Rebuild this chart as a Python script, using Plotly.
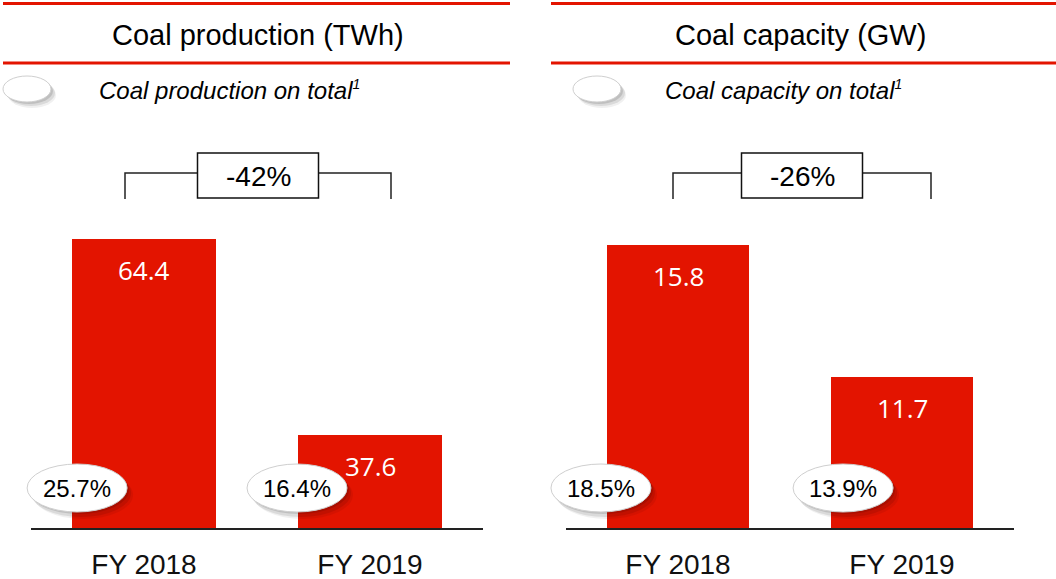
import plotly.graph_objects as go

# ---------------- data ----------------
categories = ["FY 2018", "FY 2019"]
production_twh = [64.4, 37.6]
capacity_gw = [15.8, 11.7]
production_share_pct = [25.7, 16.4]
capacity_share_pct = [18.5, 13.9]
production_change_pct = -42
capacity_change_pct = -26
panel_titles = ["Coal production (TWh)", "Coal capacity (GW)"]
legend_labels = ["Coal production on total", "Coal capacity on total"]

# ---------------- style ----------------
W, H = 1056, 579
RED = "#E31400"
FONT = "Liberation Sans, Arial, sans-serif"


def px(x):
    return x / W


def py(y):
    return 1 - y / H


fig = go.Figure()

panels = [
    dict(vals=production_twh, share=production_share_pct, change=production_change_pct,
         title=panel_titles[0], legend=legend_labels[0],
         xdom=(31, 483), yrange=(24.82, 76.63),
         line_x=(3, 510), title_x=258, leg_ell_x=27, leg_txt_x=97,
         br=(125, 391), ell_off=[-0.296, -0.323]),
    dict(vals=capacity_gw, share=capacity_share_pct, change=capacity_change_pct,
         title=panel_titles[1], legend=legend_labels[1],
         xdom=(566, 1014), yrange=(7.0, 18.75),
         line_x=(551, 1056), title_x=800, leg_ell_x=597, leg_txt_x=663,
         br=(673, 931), ell_off=[-0.344, -0.263]),
]

shapes = []
annotations = []
YDOM = (py(528.3), py(150))
XRANGE = (-0.5, 1.5)

for k, p in enumerate(panels):
    xa = "x" if k == 0 else "x2"
    ya = "y" if k == 0 else "y2"
    fig.add_trace(go.Bar(
        x=list(range(len(categories))), y=p["vals"], xaxis=xa, yaxis=ya,
        width=0.633, marker=dict(color=RED, line=dict(width=0)),
        hoverinfo="skip", showlegend=False,
    ))
    axis_kw = dict(
        domain=[px(p["xdom"][0]), px(p["xdom"][1])], range=list(XRANGE),
        tickmode="array", tickvals=list(range(len(categories))), ticktext=categories,
        tickfont=dict(family=FONT, size=28, color="#111"),
        showline=True, linecolor="#222", linewidth=2, showgrid=False, zeroline=False,
        ticks="", ticklabelstandoff=10, fixedrange=True,
    )
    yaxis_kw = dict(domain=list(YDOM), range=list(p["yrange"]), visible=False,
                    showgrid=False, zeroline=False, fixedrange=True)
    if k == 0:
        fig.update_layout(xaxis=axis_kw, yaxis=yaxis_kw)
    else:
        axis_kw["anchor"] = "y2"
        yaxis_kw["anchor"] = "x2"
        fig.update_layout(xaxis2=axis_kw, yaxis2=yaxis_kw)

    # x data -> paper fraction (so that ellipses are not clipped by the subplot)
    d0, d1 = p["xdom"]

    def x_to_paper(xv, d0=d0, d1=d1):
        return px(d0 + (xv - XRANGE[0]) / (XRANGE[1] - XRANGE[0]) * (d1 - d0))

    # red header lines
    for yy in (3.5, 63):
        shapes.append(dict(type="line", xref="paper", yref="paper",
                           x0=px(p["line_x"][0]), x1=px(p["line_x"][1]),
                           y0=py(yy), y1=py(yy), line=dict(color=RED, width=3)))
    # title
    annotations.append(dict(text=p["title"], xref="paper", yref="paper",
                            x=px(p["title_x"]), y=py(35), showarrow=False,
                            xanchor="center", yanchor="middle",
                            font=dict(family=FONT, size=29, color="#000")))
    # legend ellipse
    lx, ly = px(p["leg_ell_x"]), py(89)
    for dx, dy, op in [(5, -6, 0.06), (4, -4, 0.09), (2, -2, 0.12)]:
        shapes.append(dict(type="circle", xref="paper", yref="paper",
                           xsizemode="pixel", ysizemode="pixel", xanchor=lx, yanchor=ly,
                           x0=-24 + dx, x1=24 + dx, y0=-13 + dy, y1=13 + dy,
                           fillcolor=f"rgba(0,0,0,{op})", line=dict(width=0)))
    shapes.append(dict(type="circle", xref="paper", yref="paper",
                       xsizemode="pixel", ysizemode="pixel", xanchor=lx, yanchor=ly,
                       x0=-24, x1=24, y0=-13, y1=13,
                       fillcolor="white", line=dict(color="#cfcfcf", width=1)))
    annotations.append(dict(
        text=f"<i>{p['legend']}<sup><span style='font-size:14px'>1</span></sup></i>",
        xref="paper", yref="paper",
        x=px(p["leg_txt_x"]), y=py(90), showarrow=False,
        xanchor="left", yanchor="middle",
        font=dict(family=FONT, size=24, color="#000")))

    # bracket with change box
    bx0, bx1 = px(p["br"][0]), px(p["br"][1])
    ytop, ybot = py(173), py(199)
    shapes.append(dict(type="path", xref="paper", yref="paper",
                       path=f"M {bx0},{ybot} L {bx0},{ytop} L {bx1},{ytop} L {bx1},{ybot}",
                       line=dict(color="#222", width=1.5)))
    bmid = (bx0 + bx1) / 2
    shapes.append(dict(type="rect", xref="paper", yref="paper",
                       xsizemode="pixel", ysizemode="pixel", xanchor=bmid, yanchor=py(175.5),
                       x0=-60.5, x1=60.5, y0=-22.5, y1=22.5,
                       fillcolor="white", line=dict(color="#111", width=1.5)))
    annotations.append(dict(text=f"{p['change']}%", xref="paper", yref="paper",
                            x=bmid, y=py(176), showarrow=False,
                            xanchor="center", yanchor="middle",
                            font=dict(family=FONT, size=28, color="#000")))

    # bar value labels
    for i, v in enumerate(p["vals"]):
        annotations.append(dict(text=f"{v:.1f}", xref=xa, yref=ya, x=i, y=v,
                                yshift=-31, showarrow=False, xanchor="center",
                                yanchor="middle",
                                font=dict(family="Open Sans, sans-serif", size=26,
                                          color="white")))

    # share ellipses
    for i, s in enumerate(p["share"]):
        cx = x_to_paper(i + p["ell_off"][i])
        cy = py(488)
        for dx, dy, op in [(6, -7, 0.06), (4, -5, 0.09), (2, -2, 0.12)]:
            shapes.append(dict(type="circle", xref="paper", yref="paper",
                               xsizemode="pixel", ysizemode="pixel", xanchor=cx, yanchor=cy,
                               x0=-50 + dx, x1=50 + dx, y0=-24 + dy, y1=24 + dy,
                               fillcolor=f"rgba(0,0,0,{op})", line=dict(width=0)))
        shapes.append(dict(type="circle", xref="paper", yref="paper",
                           xsizemode="pixel", ysizemode="pixel", xanchor=cx, yanchor=cy,
                           x0=-50, x1=50, y0=-24, y1=24,
                           fillcolor="white", line=dict(color="#cfcfcf", width=1)))
        annotations.append(dict(text=f"{s:.1f}%", xref="paper", yref="paper", x=cx, y=cy,
                                showarrow=False, xanchor="center", yanchor="middle",
                                font=dict(family=FONT, size=24, color="#000")))

fig.update_layout(
    width=W, height=H, margin=dict(l=0, r=0, t=0, b=0),
    paper_bgcolor="white", plot_bgcolor="white",
    shapes=shapes, annotations=annotations, bargap=0,
)

fig.write_html(
    "out.html",
    config={"displayModeBar": False},
    post_script="document.body.style.margin='0';document.body.style.overflow='hidden';",
)
